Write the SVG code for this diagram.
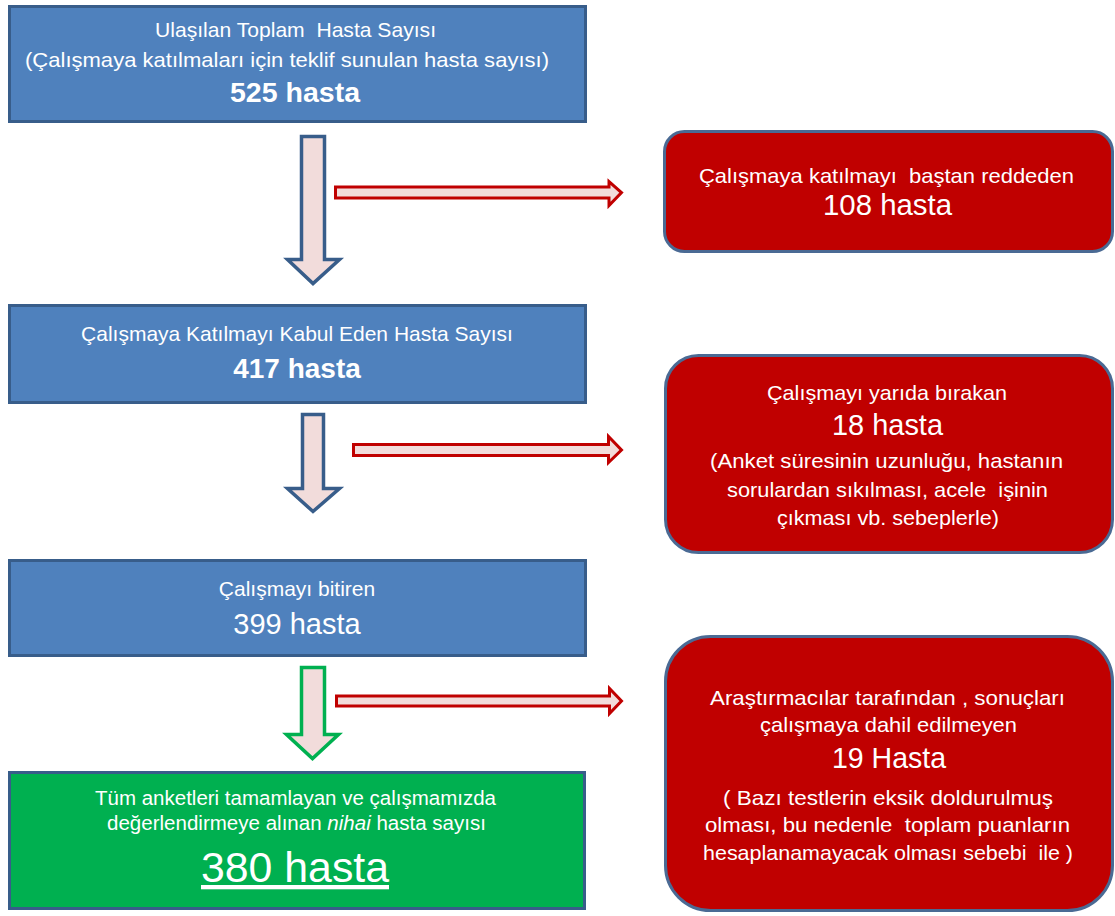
<svg xmlns="http://www.w3.org/2000/svg" width="1115" height="916" viewBox="0 0 1115 916">
<style>
.blue{fill:#4F81BD;stroke:#385D8A;stroke-width:3}
.green{fill:#00B050;stroke:#385D8A;stroke-width:3}
.red{fill:#C00000;stroke:#4A6A94;stroke-width:3}
.t{font-family:"Liberation Sans",Arial,sans-serif;fill:#FFFFFF;text-anchor:middle;white-space:pre}
.s{font-size:21px}
.b{font-size:29px}
.bb{font-size:28px;font-weight:bold}
.down{fill:#F2DCDB;stroke:#385D8A;stroke-width:3.5;stroke-linejoin:miter}
.downg{fill:#F2DCDB;stroke:#00B050;stroke-width:3.5;stroke-linejoin:miter}
.side{fill:#F2DCDB;stroke:#C00000;stroke-width:3;stroke-linejoin:miter}
</style>
<rect width="1115" height="916" fill="#FFFFFF"/>
<g id="connectors">
<path class="down" d="M301.5,136.5 H324.5 V259.5 H339.5 L313,283.5 L287.5,259.5 H301.5 Z"/>
<path class="down" d="M302.5,414.5 H323.5 V488.5 H339.5 L313,511.5 L287.5,488.5 H302.5 Z"/>
<path class="downg" d="M301.5,667.5 H324.5 V734.5 H338.5 L312.5,758.5 L286.5,734.5 H301.5 Z"/>
<path class="side" d="M335.5,187 H609 V181.5 L621.5,192.5 L609,205.5 V198 H335.5 Z"/>
<path class="side" d="M353.5,444.5 H608.5 V436.5 L621.5,450 L608.5,462.5 V455.5 H353.5 Z"/>
<path class="side" d="M336.5,696 H609.5 V688.5 L621.5,701 L609.5,713.5 V706 H336.5 Z"/>
</g>
<g id="n1">
<rect class="blue" x="9.5" y="6.5" width="576" height="115"/>
<text class="t s" x="295.5" y="37" textLength="281" lengthAdjust="spacingAndGlyphs">Ulaşılan Toplam  Hasta Sayısı</text>
<text class="t s" x="287" y="67" textLength="524" lengthAdjust="spacingAndGlyphs">(Çalışmaya katılmaları için teklif sunulan hasta sayısı)</text>
<text class="t bb" x="295" y="102" textLength="130" lengthAdjust="spacingAndGlyphs">525 hasta</text>
</g>
<g id="n2">
<rect class="blue" x="9.5" y="305.5" width="576" height="97"/>
<text class="t s" x="297" y="341">Çalışmaya Katılmayı Kabul Eden Hasta Sayısı</text>
<text class="t bb" x="297" y="378">417 hasta</text>
</g>
<g id="n3">
<rect class="blue" x="9.5" y="560.5" width="576" height="95"/>
<text class="t s" x="297" y="596">Çalışmayı bitiren</text>
<text class="t b" x="297" y="634">399 hasta</text>
</g>
<g id="n4">
<rect class="green" x="9.5" y="772.5" width="575" height="136"/>
<text class="t" style="font-size:19.5px" x="295.5" y="805" textLength="401" lengthAdjust="spacingAndGlyphs">Tüm anketleri tamamlayan ve çalışmamızda</text>
<text class="t" style="font-size:19.5px" x="296.5" y="830" textLength="379" lengthAdjust="spacingAndGlyphs">değerlendirmeye alınan <tspan font-style="italic">nihai</tspan> hasta sayısı</text>
<text class="t" style="font-size:43px;text-decoration:underline" x="295" y="882" textLength="188" lengthAdjust="spacingAndGlyphs">380 hasta</text>
</g>
<g id="r1">
<rect class="red" x="664.5" y="131.5" width="448" height="120" rx="20" ry="20"/>
<text class="t s" x="886.5" y="183" textLength="375" lengthAdjust="spacingAndGlyphs">Çalışmaya katılmayı  baştan reddeden</text>
<text class="t b" x="887.5" y="215" textLength="129" lengthAdjust="spacingAndGlyphs">108 hasta</text>
</g>
<g id="r2">
<rect class="red" x="665.5" y="355.5" width="447" height="197" rx="33" ry="33"/>
<text class="t s" x="887" y="400" textLength="240" lengthAdjust="spacingAndGlyphs">Çalışmayı yarıda bırakan</text>
<text class="t b" x="887.5" y="435" textLength="111" lengthAdjust="spacingAndGlyphs">18 hasta</text>
<text class="t s" x="886.5" y="468" textLength="353" lengthAdjust="spacingAndGlyphs">(Anket süresinin uzunluğu, hastanın</text>
<text class="t s" x="887.5" y="497" textLength="321" lengthAdjust="spacingAndGlyphs">sorulardan sıkılması, acele  işinin</text>
<text class="t s" x="888" y="525" textLength="222" lengthAdjust="spacingAndGlyphs">çıkması vb. sebeplerle)</text>
</g>
<g id="r3">
<rect class="red" x="665.5" y="636.5" width="447" height="274" rx="45" ry="45"/>
<text class="t s" x="887.5" y="705" textLength="355" lengthAdjust="spacingAndGlyphs">Araştırmacılar tarafından , sonuçları</text>
<text class="t s" x="888.5" y="732" textLength="257" lengthAdjust="spacingAndGlyphs">çalışmaya dahil edilmeyen</text>
<text class="t b" x="889" y="768" textLength="114" lengthAdjust="spacingAndGlyphs">19 Hasta</text>
<text class="t s" x="888" y="805" textLength="330" lengthAdjust="spacingAndGlyphs">( Bazı testlerin eksik doldurulmuş</text>
<text class="t s" x="887.5" y="832" textLength="365" lengthAdjust="spacingAndGlyphs">olması, bu nedenle  toplam puanların</text>
<text class="t s" x="888" y="860" textLength="370" lengthAdjust="spacingAndGlyphs">hesaplanamayacak olması sebebi  ile )</text>
</g>
</svg>
